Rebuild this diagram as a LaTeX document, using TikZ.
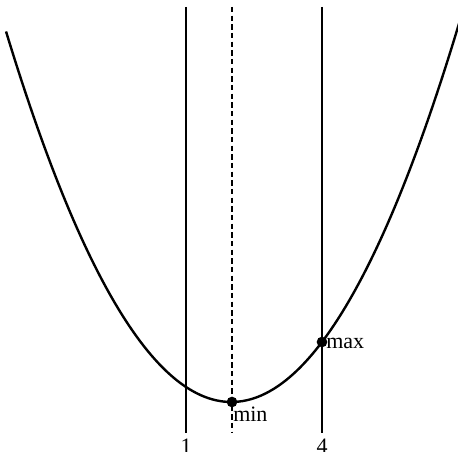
\documentclass[tikz,border=0pt]{standalone}
\usepackage{fontspec}
\setmainfont{Liberation Serif}
\begin{document}
\begin{tikzpicture}[x=0.75pt,y=-0.75pt,
  curve/.style={line width=1.8pt},
  vline/.style={line width=1.8pt},
  dot/.style={circle,fill=black,inner sep=0pt,minimum size=8pt},
  lbl/.style={inner sep=0pt,font=\fontsize{16.5}{18}\selectfont}]
\useasboundingbox (0,0) rectangle (458,452);
% vertical lines
\coordinate (a1) at (186,7);
\coordinate (a2) at (186,433);
\coordinate (m1) at (232,7);
\coordinate (m2) at (232,433);
\coordinate (b1) at (322,7);
\coordinate (b2) at (322,433);
\draw[vline] (a1) -- (a2);
\draw[vline] (b1) -- (b2);
\draw[vline,dash pattern=on 4pt off 2.5pt] (m1) -- (m2);
% parabola
\draw[curve,domain=-2.97:7.05,samples=120,smooth]
  plot ({186+45.33*(\x-1)},{402-15*(\x-2)*(\x-2)});
% points
\node[dot] (pmin) at (232,402) {};
\node[dot] (pmax) at (322,342) {};
\node[lbl,anchor=base west] (lmin) at (233,421.5) {min};
\node[lbl,anchor=base west] (lmax) at (326,349) {max};
\node[lbl,anchor=base] (l1) at (186,454) {1};
\node[lbl,anchor=base] (l4) at (322,454) {4};
\end{tikzpicture}
\end{document}
